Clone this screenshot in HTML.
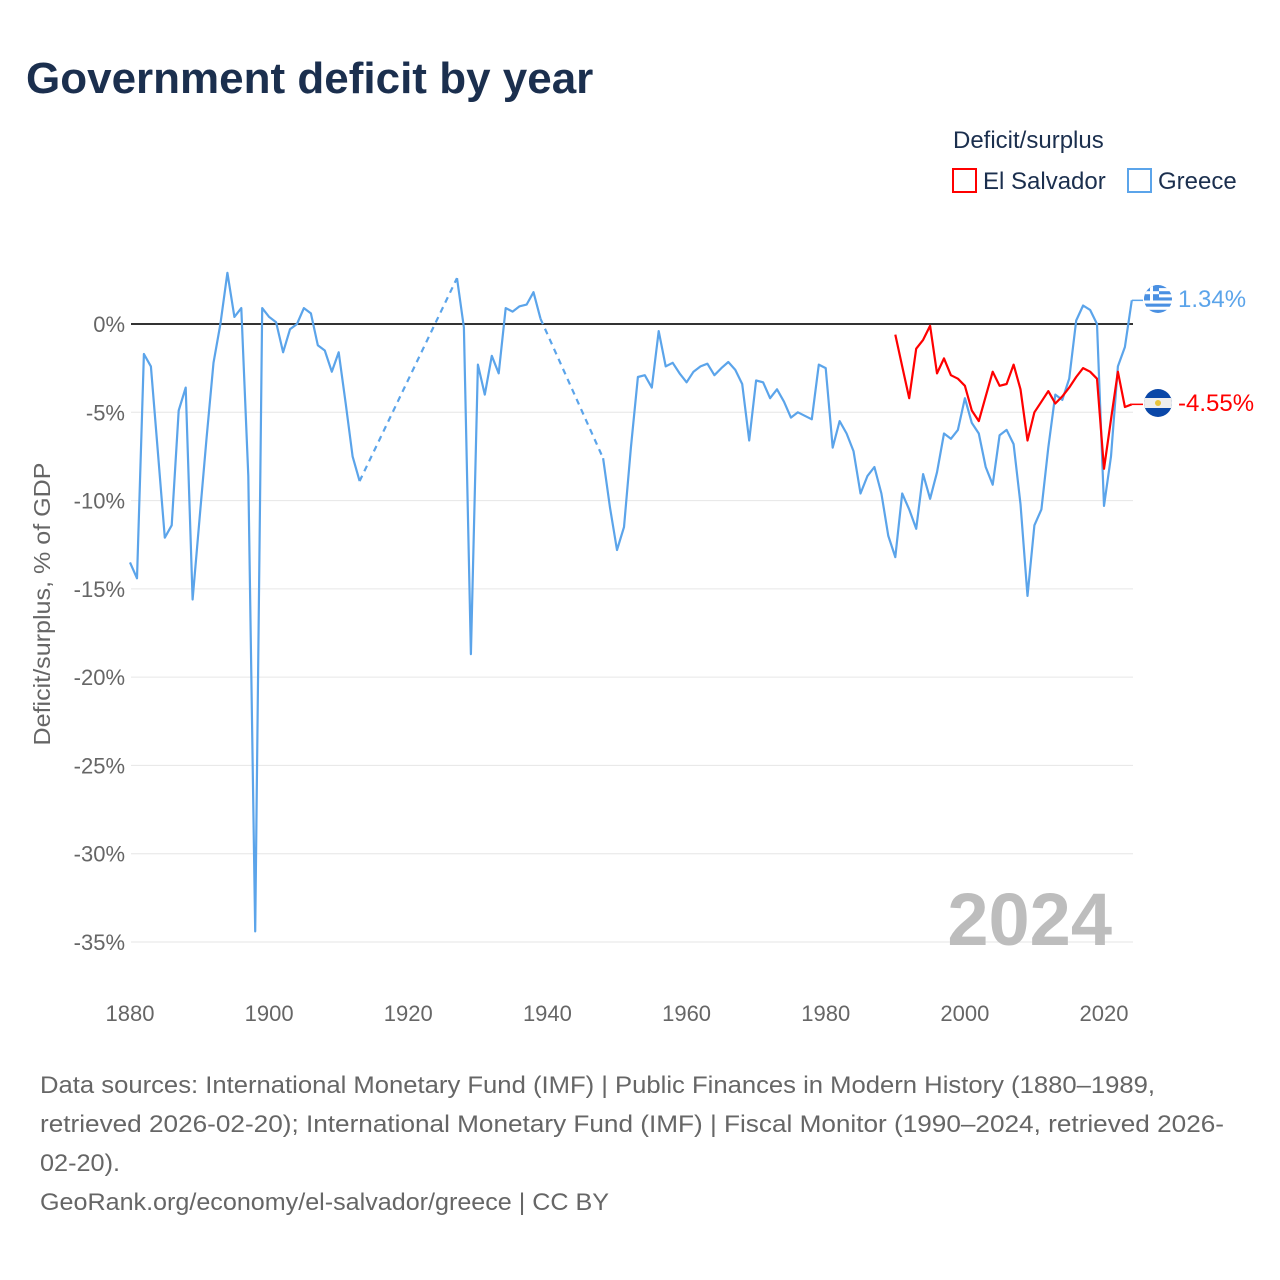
<!DOCTYPE html>
<html><head><meta charset="utf-8"><style>
body{margin:0;background:#fff;width:1280px;height:1280px;overflow:hidden;font-family:"Liberation Sans",sans-serif}
svg{display:block}
</style></head><body>
<svg id="chart" width="1280" height="1280">
<text x="26" y="93" font-size="44" font-weight="bold" fill="#1b2f4e">Government deficit by year</text>
<text x="953" y="148" font-size="24" fill="#1b2f4e">Deficit/surplus</text>
<g><rect x="953" y="169" width="23" height="23" fill="none" stroke="#f00" stroke-width="2"/><text x="983" y="189" font-size="24" fill="#1b2f4e">El Salvador</text></g>
<g><rect x="1128" y="169" width="23" height="23" fill="none" stroke="#5ba4ea" stroke-width="2"/><text x="1158" y="189" font-size="24" fill="#1b2f4e">Greece</text></g>
<g id="grid"></g>
<g id="yticks" font-size="22" fill="#666" text-anchor="end"></g>
<g id="xticks" font-size="22" fill="#666" text-anchor="middle"></g>
<text transform="translate(50,604) rotate(-90)" font-size="23.5" fill="#666" text-anchor="middle" textLength="283" lengthAdjust="spacingAndGlyphs">Deficit/surplus, % of GDP</text>
<text x="1112" y="945" font-size="74" font-weight="bold" fill="#bdbdbd" text-anchor="end">2024</text>
<g id="series"></g>
<g>
<clipPath id="cg"><circle cx="1158" cy="299" r="14"/></clipPath>
<g clip-path="url(#cg)"><rect x="1144" y="285" width="28" height="28" fill="#fff"/>
<rect x="1144" y="285" width="28" height="3.1" fill="#4a90e2"/><rect x="1144" y="291.2" width="28" height="3.1" fill="#4a90e2"/><rect x="1144" y="297.4" width="28" height="3.1" fill="#4a90e2"/><rect x="1144" y="303.6" width="28" height="3.1" fill="#4a90e2"/><rect x="1144" y="309.8" width="28" height="3.2" fill="#4a90e2"/>
<rect x="1144" y="285" width="15" height="15.5" fill="#4a90e2"/><rect x="1150" y="285" width="3" height="15.5" fill="#fff"/><rect x="1144" y="291.2" width="15" height="3" fill="#fff"/></g>
<text x="1178" y="307" font-size="24" fill="#5ba4ea">1.34%</text></g>
<g>
<clipPath id="ce"><circle cx="1158" cy="403" r="14"/></clipPath>
<g clip-path="url(#ce)"><rect x="1144" y="389" width="28" height="28" fill="#0a47a8"/><rect x="1144" y="398" width="28" height="10" fill="#eee"/><circle cx="1158" cy="403" r="3" fill="#e8c33a"/></g>
<text x="1178" y="411" font-size="24" fill="#f00">-4.55%</text></g>
<text font-size="24" fill="#666" lengthAdjust="spacingAndGlyphs"><tspan x="40" y="1093" textLength="1115" lengthAdjust="spacingAndGlyphs">Data sources: International Monetary Fund (IMF) | Public Finances in Modern History (1880–1989,</tspan><tspan x="40" y="1132" textLength="1184" lengthAdjust="spacingAndGlyphs">retrieved 2026-02-20); International Monetary Fund (IMF) | Fiscal Monitor (1990–2024, retrieved 2026-</tspan><tspan x="40" y="1171" textLength="80" lengthAdjust="spacingAndGlyphs">02-20).</tspan><tspan x="40" y="1210" textLength="569" lengthAdjust="spacingAndGlyphs">GeoRank.org/economy/el-salvador/greece | CC BY</tspan></text>
</svg>
<script>
const yTickValues=[0,-5,-10,-15,-20,-25,-30,-35];
const xTickValues=[1880,1900,1920,1940,1960,1980,2000,2020];
const greeceYears1=[1880,1881,1882,1883,1884,1885,1886,1887,1888,1889,1890,1891,1892,1893,1894,1895,1896,1897,1898,1899,1900,1901,1902,1903,1904,1905,1906,1907,1908,1909,1910,1911,1912,1913];
const greeceValues1=[-13.5,-14.4,-1.7,-2.4,-7.2,-12.1,-11.4,-4.9,-3.6,-15.6,-11,-6.5,-2.2,0,2.9,0.4,0.9,-8.6,-34.4,0.9,0.4,0.1,-1.6,-0.3,0,0.9,0.6,-1.2,-1.5,-2.7,-1.6,-4.5,-7.5,-8.9];
const greeceYears2=[1927,1928,1929,1930,1931,1932,1933,1934,1935,1936,1937,1938,1939];
const greeceValues2=[2.6,-0.2,-18.7,-2.3,-4.0,-1.8,-2.8,0.9,0.7,1.0,1.1,1.8,0.3];
const greeceYears3=[1948,1949,1950,1951,1952,1953,1954,1955,1956,1957,1958,1959,1960,1961,1962,1963,1964,1965,1966,1967,1968,1969,1970,1971,1972,1973,1974,1975,1976,1977,1978,1979,1980,1981,1982,1983,1984,1985,1986,1987,1988,1989,1990,1991,1992,1993,1994,1995,1996,1997,1998,1999,2000,2001,2002,2003,2004,2005,2006,2007,2008,2009,2010,2011,2012,2013,2014,2015,2016,2017,2018,2019,2020,2021,2022,2023,2024];
const greeceValues3=[-7.6,-10.4,-12.8,-11.5,-7.0,-3.0,-2.9,-3.6,-0.4,-2.4,-2.2,-2.8,-3.3,-2.7,-2.4,-2.25,-2.9,-2.5,-2.15,-2.6,-3.4,-6.6,-3.2,-3.3,-4.2,-3.7,-4.4,-5.3,-5.0,-5.2,-5.4,-2.3,-2.5,-7.0,-5.5,-6.2,-7.2,-9.6,-8.6,-8.1,-9.6,-12.0,-13.2,-9.6,-10.5,-11.6,-8.5,-9.9,-8.4,-6.2,-6.5,-6.0,-4.2,-5.6,-6.2,-8.1,-9.1,-6.3,-6.0,-6.8,-10.2,-15.4,-11.4,-10.5,-7.0,-4.0,-4.3,-3.1,0.2,1.05,0.8,0,-10.3,-7.5,-2.4,-1.3,1.34];
const salvadorYears=[1990,1991,1992,1993,1994,1995,1996,1997,1998,1999,2000,2001,2002,2003,2004,2005,2006,2007,2008,2009,2010,2011,2012,2013,2014,2015,2016,2017,2018,2019,2020,2021,2022,2023,2024];
const salvadorValues=[-0.6,-2.4,-4.2,-1.4,-0.9,-0.1,-2.8,-1.95,-2.9,-3.1,-3.5,-4.9,-5.5,-4.1,-2.7,-3.5,-3.4,-2.3,-3.7,-6.6,-5.0,-4.4,-3.8,-4.5,-4.1,-3.6,-3.0,-2.5,-2.7,-3.1,-8.2,-5.4,-2.7,-4.7,-4.55];

const NS='http://www.w3.org/2000/svg';
const X=yr=>130+(yr-1880)*(1105-131)/140;
const Y=v=>324-v*(942-324)/35;
function mk(tag,attrs,parent){const e=document.createElementNS(NS,tag);for(const k in attrs)e.setAttribute(k,attrs[k]);parent.appendChild(e);return e;}
const grid=document.getElementById('grid'),yt=document.getElementById('yticks'),xt=document.getElementById('xticks'),ser=document.getElementById('series');
yTickValues.forEach(v=>{
  if(v!==0){const l=mk('line',{x1:131,x2:1133,y1:Y(v),y2:Y(v),stroke:'#e6e6e6','stroke-width':1},grid);
  
  }
  const t=mk('text',{x:125,y:Y(v)+8},yt);t.textContent=v+'%';
  
  
});
xTickValues.forEach(v=>{
  const t=mk('text',{x:X(v),y:1021},xt);t.textContent=v;
  
  
});
function pts(ys,vs){return ys.map((y,i)=>X(y).toFixed(1)+','+Y(vs[i]).toFixed(1)).join(' ');}
const G='#5ba4ea';
[[greeceYears1,greeceValues1],[greeceYears2,greeceValues2],[greeceYears3,greeceValues3]].forEach(s=>{
  const p=mk('polyline',{points:pts(s[0],s[1]),fill:'none',stroke:G,'stroke-width':2.2,'stroke-linejoin':'round'},ser);
  
  
});
[[greeceYears1,greeceValues1,greeceYears2,greeceValues2],[greeceYears2,greeceValues2,greeceYears3,greeceValues3]].forEach(s=>{
  const a=s[0].length-1;
  const d=mk('line',{x1:X(s[0][a]),y1:Y(s[1][a]),x2:X(s[2][0]),y2:Y(s[3][0]),stroke:G,'stroke-width':2.2,'stroke-dasharray':'6,5'},ser);
  
  
});
const z=mk('line',{x1:131,x2:1133,y1:Y(0),y2:Y(0),stroke:'#333','stroke-width':2},ser);


ser.insertBefore(z,ser.firstChild);
const sv=mk('polyline',{points:pts(salvadorYears,salvadorValues),fill:'none',stroke:'#f00','stroke-width':2.2,'stroke-linejoin':'round'},ser);


const lastG=greeceValues3[greeceValues3.length-1],lastS=salvadorValues[salvadorValues.length-1];
const c1=mk('line',{x1:X(2024),y1:Y(lastG),x2:1143,y2:Y(lastG),stroke:G,'stroke-width':1.5},ser);


const c2=mk('line',{x1:X(2024),y1:Y(lastS),x2:1143,y2:Y(lastS),stroke:'#f00','stroke-width':1.5},ser);


</script>
</body></html>
